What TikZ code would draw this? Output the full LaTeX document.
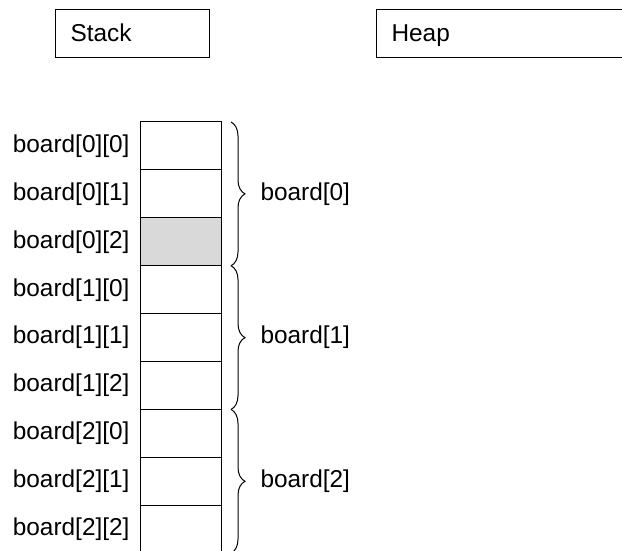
\documentclass[tikz,border=0pt]{standalone}
\usepackage{fontspec}
\setmainfont{Liberation Sans}
\usetikzlibrary{positioning,decorations.pathreplacing}

\begin{document}
\begin{tikzpicture}[x=0.5pt, y=-0.5pt, line width=0.5pt,
  font=\fontsize{12.2}{14}\selectfont,
  titlebox/.style={draw, anchor=north west, minimum height=24pt,
    inner xsep=7.5pt, inner ysep=0pt, text height=9.7pt, text depth=1.7pt,
    align=left},
  cell/.style={draw, minimum width=40.5pt, minimum height=24pt,
    inner sep=0pt, outer sep=0pt},
  used/.style={fill=black!15},
  brace/.style={decorate, decoration={brace, amplitude=7pt}}]
  \useasboundingbox (0,0) rectangle (622,551);

  % stack and heap headers
  \node[titlebox, text width=62pt] (stack) at (55,9) {Stack};
  \node[titlebox, text width=140pt] (heap) at (376,9) {Heap};

  % the 3x3 board, one cell per element
  \foreach \i in {0,...,8} {
    \pgfmathtruncatemacro{\r}{int(\i/3)}
    \pgfmathtruncatemacro{\c}{mod(\i,3)}
    \ifnum\i=2
      \node[cell, used] (c\i) at (180.5, 146+47.9*\i) {};
    \else
      \node[cell] (c\i) at (180.5, 146+47.9*\i) {};
    \fi
    \node[left=5pt of c\i, inner sep=0pt] (l\i) {board[\r][\c]};
  }

  % rows
  \coordinate (b0a) at ([xshift=5pt]c0.north east);
  \coordinate (b0b) at ([xshift=5pt]c2.south east);
  \coordinate (b1a) at ([xshift=5pt]c3.north east);
  \coordinate (b1b) at ([xshift=5pt]c5.south east);
  \coordinate (b2a) at ([xshift=5pt]c6.north east);
  \coordinate (b2b) at ([xshift=5pt]c8.south east);
  \draw[brace] (b0a) -- (b0b) node[midway, right=14.5pt, inner sep=0pt] (r0) {board[0]};
  \draw[brace] (b1a) -- (b1b) node[midway, right=14.5pt, inner sep=0pt] (r1) {board[1]};
  \draw[brace] (b2a) -- (b2b) node[midway, right=14.5pt, inner sep=0pt] (r2) {board[2]};
\end{tikzpicture}
\end{document}
